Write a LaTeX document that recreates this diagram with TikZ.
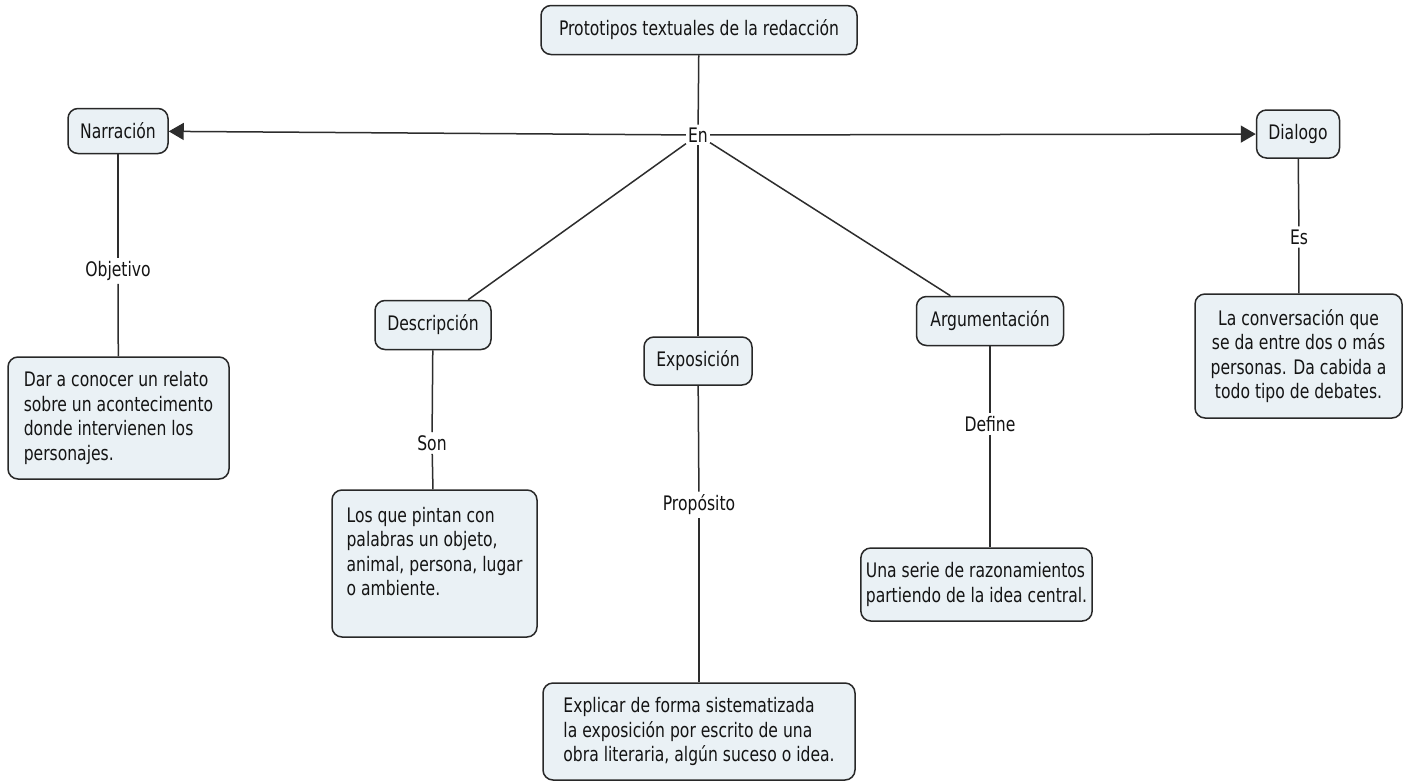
\documentclass[tikz,border=0pt]{standalone}
\usepackage{fontspec}
\setmainfont[FakeStretch=0.78]{DejaVu Sans}
\usetikzlibrary{arrows.meta}
\definecolor{boxfill}{RGB}{234,241,245}
\definecolor{boxline}{RGB}{40,40,40}
\definecolor{connline}{RGB}{45,45,45}
\definecolor{txtcol}{RGB}{20,20,20}
\begin{document}
\begin{tikzpicture}[x=1pt,y=-1pt,
  concept/.style={draw=boxline, line width=1.5pt, fill=boxfill, rounded corners=10pt,
    inner xsep=7pt, inner ysep=4pt, text=txtcol, font=\fontsize{20}{24.5}\selectfont},
  small/.style={concept, minimum height=47pt},
  txtbox/.style={concept, align=left},
  ctrbox/.style={concept, align=center},
  lbl/.style={inner xsep=2pt, inner ysep=3pt, text=txtcol, font=\fontsize{20}{24.5}\selectfont},
  connector/.style={draw=connline, line width=1.5pt},
  arrowconn/.style={connector, -{Triangle[length=15pt,width=17pt]}}]
\fill[white] (0,0) rectangle (1411,782);
\useasboundingbox (0,0) rectangle (1411,782);

% main concepts
\node[small, minimum width=316pt, minimum height=49pt] (top) at (699,30) {Prototipos textuales de la redacción};
\node[lbl] (en) at (698,135) {En};
\node[small, minimum width=100pt, minimum height=45pt] (narr) at (118,131) {Narración};
\node[small, minimum width=83pt, minimum height=48pt] (dial) at (1298,134) {Dialogo};
\node[small, minimum width=116pt, minimum height=49pt] (desc) at (433,325) {Descripción};
\node[small, minimum width=108pt, minimum height=48pt] (expo) at (698,361) {Exposición};
\node[small, minimum width=147pt, minimum height=49pt] (argu) at (990,321) {Argumentación};

% linking labels
\node[lbl] (obj) at (118,271) {Objetivo};
\node[lbl] (son) at (432,443) {Son};
\node[lbl] (prop) at (699,505) {Propósito};
\node[lbl] (defi) at (990,424) {Define};
\node[lbl] (es) at (1299,237) {Es};

% text boxes
\node[txtbox, minimum width=221pt, minimum height=122pt] (dar) at (118.5,418)
  {Dar a conocer un relato\\sobre un acontecimento\\donde intervienen los\\personajes.};
\node[txtbox, minimum width=205pt, minimum height=147pt] (los) at (434.5,563.5)
  {Los que pintan con\\palabras un objeto,\\animal, persona, lugar\\o ambiente.\\\mbox{}};
\node[txtbox, minimum width=312pt, minimum height=97pt] (expl) at (699,731.5)
  {Explicar de forma sistematizada\\la exposición por escrito de una\\obra literaria, algún suceso o idea.};
\node[txtbox, minimum width=223pt, minimum height=73pt, inner xsep=5pt] (una) at (976.5,584.5)
  {Una serie de razonamientos\\partiendo de la idea central.};
\node[ctrbox, minimum width=207pt, minimum height=124pt] (conv) at (1298.5,356)
  {La conversación que\\se da entre dos o más\\personas. Da cabida a\\todo tipo de debates.};

% connectors
\draw[connector] (top) -- (en);
\draw[arrowconn] (en) -- (narr);
\draw[arrowconn] (en) -- (dial);
\draw[connector] (en) -- (desc);
\draw[connector] (en) -- (expo);
\draw[connector] (en) -- (argu);

\draw[connector] (narr) -- (obj);
\draw[connector] (obj) -- (dar);
\draw[connector] (desc) -- (son);
\draw[connector] (son) -- (los);
\draw[connector] (expo) -- (prop);
\draw[connector] (prop) -- (expl);
\draw[connector] (argu) -- (defi);
\draw[connector] (defi) -- (defi |- una.north);
\draw[connector] (dial) -- (es);
\draw[connector] (es) -- (conv);
\end{tikzpicture}
\end{document}
